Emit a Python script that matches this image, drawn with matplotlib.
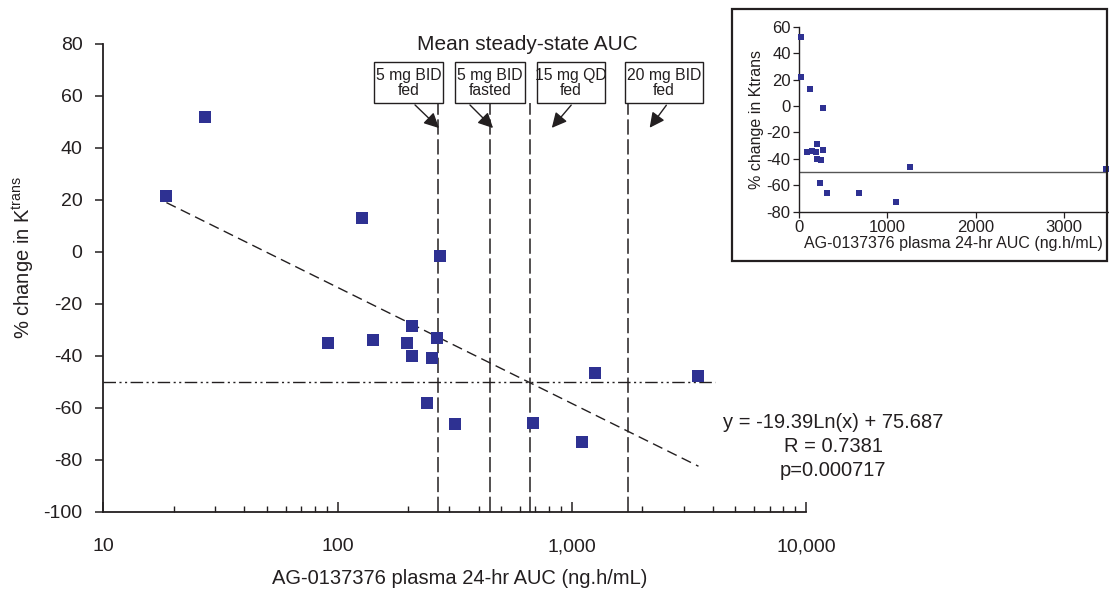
import matplotlib
matplotlib.use("Agg")
import matplotlib.pyplot as plt
from matplotlib.patches import Rectangle, FancyArrowPatch
from matplotlib.ticker import FixedLocator, NullFormatter
import numpy as np

plt.rcParams['font.family'] = ['Liberation Sans', 'DejaVu Sans']
plt.rcParams['axes.unicode_minus'] = False
plt.rcParams['text.color'] = '#231F20'
plt.rcParams['axes.labelcolor'] = '#231F20'
plt.rcParams['xtick.color'] = '#231F20'
plt.rcParams['ytick.color'] = '#231F20'

# ---------------- data ----------------
auc = [18.6, 27.3, 127, 274, 91, 142, 197, 207, 208, 252, 267, 240, 318, 682, 1102, 1261, 3475]
ktrans_change = [21.6, 52, 13.2, -1.4, -35, -33.8, -35, -28.6, -40, -40.9, -33.1, -58.1, -66, -65.8, -73, -46.5, -47.5]

trend_x = [18.6, 3475]
trend_y = [19.0, -82.4]

ref_auc = [269, 448, 664, 1746]
ref_labels = ["5 mg BID\nfed", "5 mg BID\nfasted", "15 mg QD\nfed", "20 mg BID\nfed"]

threshold = -50

x_ticks = [10, 100, 1000, 10000]
x_ticklabels = ["10", "100", "1,000", "10,000"]
y_ticks = [-100, -80, -60, -40, -20, 0, 20, 40, 60, 80]

inset_x_ticks = [0, 1000, 2000, 3000]
inset_y_ticks = [-80, -60, -40, -20, 0, 20, 40, 60]

eq_lines = ["y = -19.39Ln(x) + 75.687", "R = 0.7381", "p=0.000717"]

# ---------------- figure ----------------
W, H = 1109, 589
fig = plt.figure(figsize=(W / 100, H / 100), dpi=100)

def fx(px):
    return px / W

def fy(py):
    return 1 - py / H

marker_color = '#2E3192'
ink = '#231F20'

ax = fig.add_axes([fx(103.3), fy(512), fx(806) - fx(103.3), fy(44) - fy(512)])
ax.set_xscale('log')
ax.set_xlim(10, 10000)
ax.set_ylim(-100, 80)
for s in ['top', 'right']:
    ax.spines[s].set_visible(False)
for s in ['left', 'bottom']:
    ax.spines[s].set_color(ink)
    ax.spines[s].set_linewidth(1.3)

ax.scatter(auc, ktrans_change, marker='s', s=64, color=marker_color, zorder=5, linewidths=0)
ax.plot(trend_x, trend_y, color=ink, lw=1.0, dashes=(7.5, 4), zorder=3)
ax.hlines(threshold, 10, 4100, color=ink, lw=1.0, linestyles=[(0, (9, 2.5, 1.5, 2.5, 1.5, 2.5))], zorder=3)
ax.vlines(ref_auc, -100, 57.4, color=ink, lw=1.1, linestyles=[(0, (10, 3))], zorder=2)

ax.xaxis.set_major_locator(FixedLocator(x_ticks))
ax.set_xticklabels(x_ticklabels)
ax.xaxis.set_minor_formatter(NullFormatter())
ax.tick_params(axis='x', which='major', direction='in', length=7, width=1.1, pad=19, labelsize=14)
ax.tick_params(axis='x', which='minor', direction='in', length=4, width=1.0)
ax.set_yticks(y_ticks)
ax.tick_params(axis='y', which='major', direction='out', length=6, width=1.1, pad=9, labelsize=14)

ax.set_xlabel("AG-0137376 plasma 24-hr AUC (ng.h/mL)", fontsize=14.5)
ax.xaxis.set_label_coords((460 - 103.3) / (806 - 103.3), -(578 - 512) / (512 - 44), transform=ax.transAxes)
ax.xaxis.label.set_va('center')
ax.set_ylabel("% change in K$^{\\mathregular{trans}}$", fontsize=14.5)
ax.yaxis.set_label_coords(-(103.3 - 23) / (806 - 103.3), (512 - 258) / (512 - 44))
ax.yaxis.label.set_va('center')

# title above reference lines
fig.text(fx(527), fy(45), "Mean steady-state AUC", ha='center', va='center', fontsize=15)

# boxes + arrows
boxes = [(374, 443), (455, 525), (537, 605), (625, 703)]
arrows = [((413, 103), (441, 130)), ((468, 103), (495, 130)),
          ((573, 103), (550, 130)), ((668, 103), (648, 130))]
for (x0, x1), lab, (tail, head) in zip(boxes, ref_labels, arrows):
    fig.add_artist(Rectangle((fx(x0), fy(103)), fx(x1) - fx(x0), fy(62) - fy(103),
                             transform=fig.transFigure, fill=False, edgecolor=ink, lw=1.0))
    fig.text(fx((x0 + x1) / 2), fy(83), lab, ha='center', va='center', fontsize=11.3, linespacing=1.08)
    fig.add_artist(FancyArrowPatch((fx(tail[0]), fy(tail[1])), (fx(head[0]), fy(head[1])),
                                   transform=fig.transFigure, arrowstyle='-|>,head_length=6,head_width=3',
                                   color=ink, lw=1.0, mutation_scale=1.5))

for txt, py in zip(eq_lines, [422, 446, 470]):
    fig.text(fx(833), fy(py), txt, ha='center', va='center', fontsize=14.5)

# ---------------- inset ----------------
fig.add_artist(Rectangle((fx(732), fy(261)), fx(1107) - fx(732), fy(9) - fy(261),
                         transform=fig.transFigure, fill=False, edgecolor=ink, lw=1.6))
axi = fig.add_axes([fx(799), fy(211.7), fx(1108) - fx(799), fy(26.7) - fy(211.7)])
axi.set_xlim(0, 3500)
axi.set_ylim(-80, 60)
for s in ['top', 'right']:
    axi.spines[s].set_visible(False)
for s in ['left', 'bottom']:
    axi.spines[s].set_color(ink)
    axi.spines[s].set_linewidth(1.0)
axi.axhline(threshold, color='#555555', lw=1.0, zorder=2)
axi.scatter(auc, ktrans_change, marker='s', s=18, color=marker_color, zorder=5, linewidths=0, clip_on=False)
axi.set_xticks(inset_x_ticks)
axi.set_yticks(inset_y_ticks)
axi.tick_params(labelsize=12, length=4, width=0.9, pad=2)
axi.set_xlabel("AG-0137376 plasma 24-hr AUC (ng.h/mL)", fontsize=11.5, labelpad=1)
axi.set_ylabel("% change in Ktrans", fontsize=11.5, labelpad=2)

fig.savefig("out.png", dpi=100)
